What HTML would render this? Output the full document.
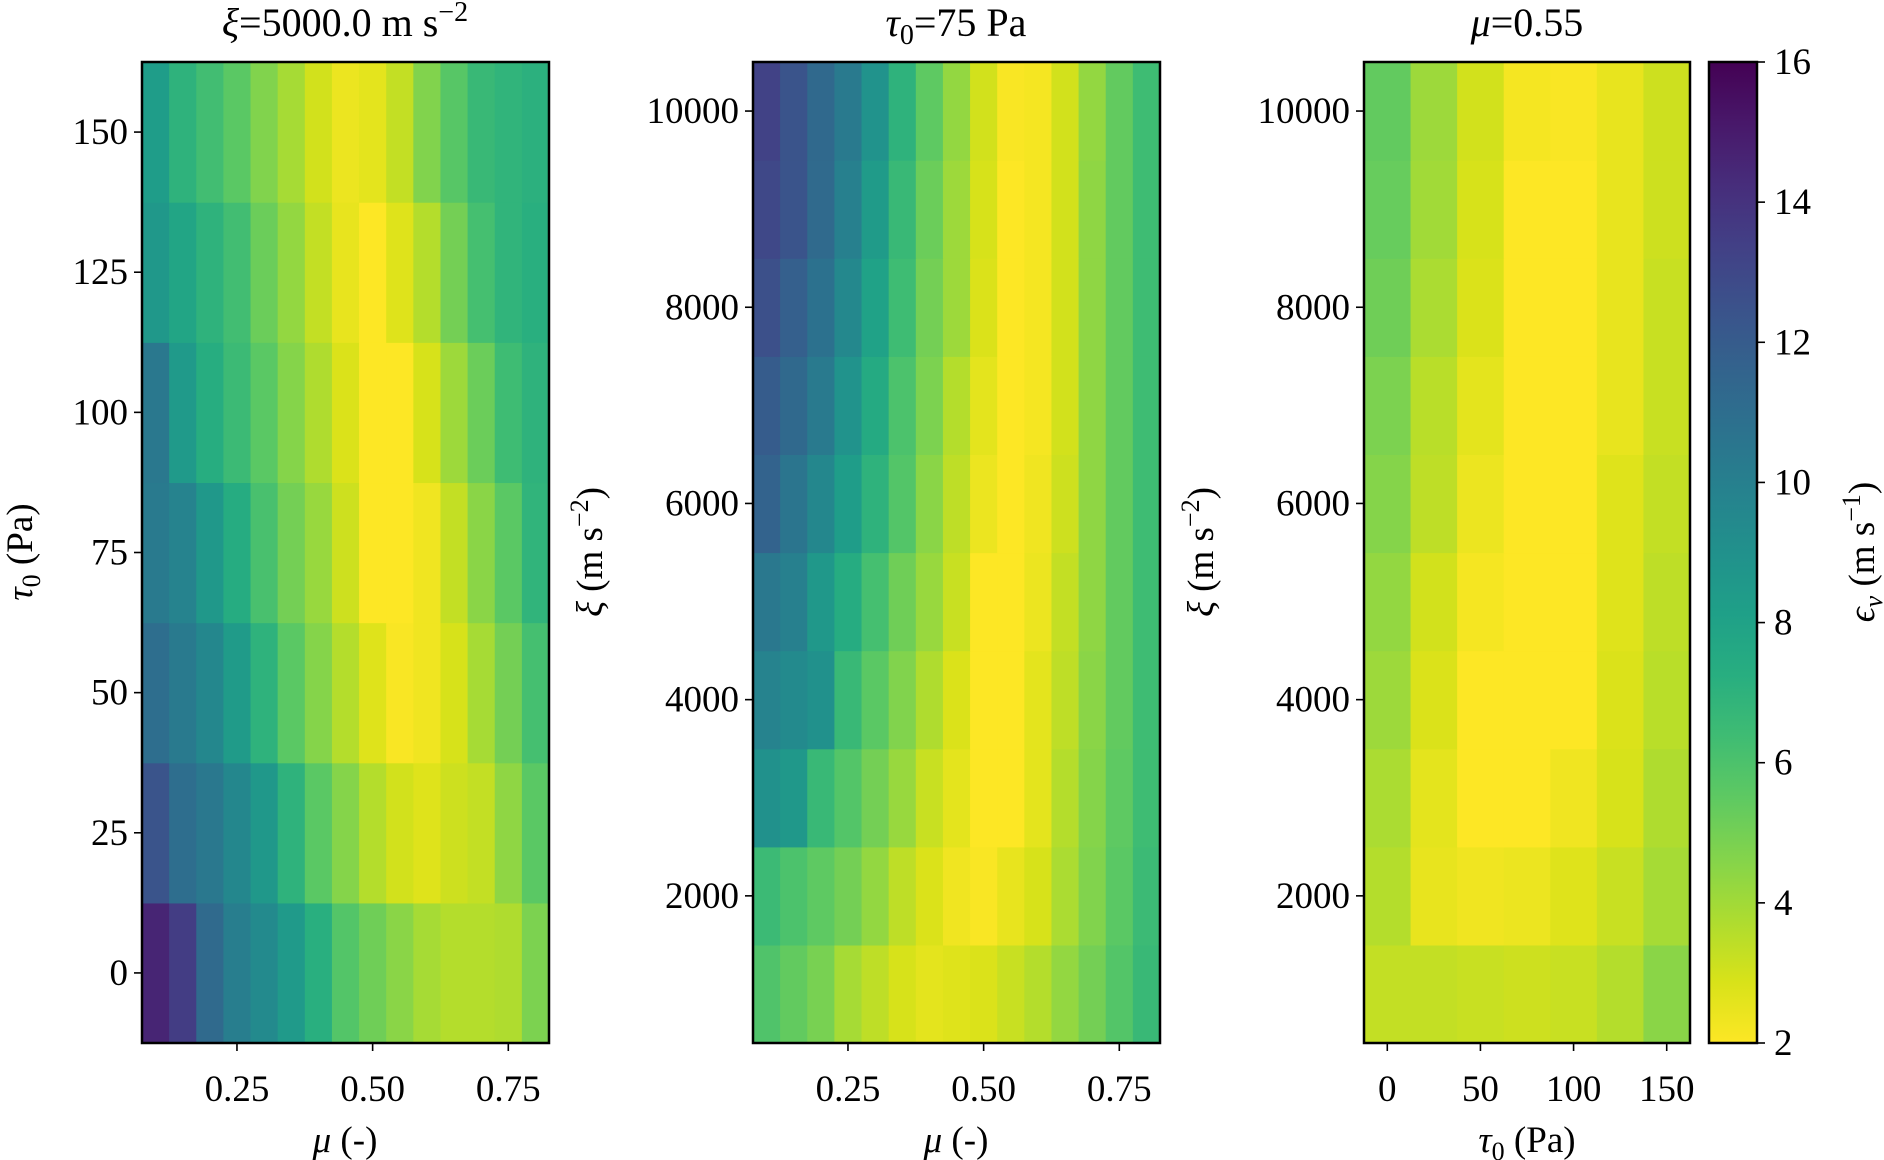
<!DOCTYPE html>
<html><head><meta charset="utf-8"><style>
html,body{margin:0;padding:0;background:#fff;}
svg{display:block;font-family:"Liberation Serif",serif;}
</style></head><body>
<svg id="fig" width="1884" height="1160" viewBox="0 0 1884 1160" xmlns="http://www.w3.org/2000/svg" style="position:absolute;left:0;top:0;">
<defs>
<linearGradient id="vgrad" x1="0" y1="1" x2="0" y2="0">
<stop offset="0" stop-color="#fde725"/><stop offset="0.0625" stop-color="#d8e219"/><stop offset="0.125" stop-color="#addc30"/><stop offset="0.1875" stop-color="#84d44b"/><stop offset="0.25" stop-color="#5ec962"/><stop offset="0.3125" stop-color="#3fbc73"/><stop offset="0.375" stop-color="#28ae80"/><stop offset="0.4375" stop-color="#1fa088"/><stop offset="0.5" stop-color="#21918c"/><stop offset="0.5625" stop-color="#26828e"/><stop offset="0.625" stop-color="#2c728e"/><stop offset="0.6875" stop-color="#33638d"/><stop offset="0.75" stop-color="#3b528b"/><stop offset="0.8125" stop-color="#424086"/><stop offset="0.875" stop-color="#472d7b"/><stop offset="0.9375" stop-color="#48186a"/><stop offset="1" stop-color="#440154"/>
</linearGradient>
</defs>
</svg>
<script>
// ---- data ----
const muCats = [0.1,0.15,0.2,0.25,0.3,0.35,0.4,0.45,0.5,0.55,0.6,0.65,0.7,0.75,0.8];
const tauCats = [0,25,50,75,100,125,150];
const xiCats = [1000,2000,3000,4000,5000,6000,7000,8000,9000,10000];
// panel 1: rows tau0 = 0..150 (bottom to top), cols mu
const p1Values = [
 [14.6,13.5,11.2,10.1,9.4,8.5,7.2,5.8,5.1,4.5,3.9,3.6,3.6,3.7,4.8],
 [12.4,11.0,10.4,9.6,8.6,7.0,5.6,4.6,3.6,3.0,2.7,3.1,3.3,4.4,5.6],
 [11.0,10.3,9.6,8.4,7.0,5.6,4.6,3.6,2.7,2.1,2.3,2.9,3.9,5.0,6.2],
 [10.3,9.8,8.6,7.4,6.1,5.0,4.2,3.1,2.0,2.0,2.3,3.3,4.5,5.6,6.9],
 [10.4,8.5,7.3,6.5,5.6,4.6,3.7,2.8,2.0,2.0,2.9,4.1,5.2,6.4,7.0],
 [8.6,7.8,7.0,6.3,5.2,4.3,3.3,2.5,2.0,2.7,3.6,5.0,6.2,6.9,7.2],
 [8.3,7.0,6.3,5.6,4.7,3.9,3.0,2.4,2.6,3.3,4.7,5.7,6.6,6.9,7.1]
];
// panel 2: rows xi = 1000..10000, cols mu
const p2Values = [
 [5.9,5.4,4.9,3.9,3.4,2.9,2.6,2.7,2.8,3.2,3.6,4.3,5.0,5.8,6.6],
 [6.5,6.0,5.5,5.0,4.3,3.4,2.8,2.3,2.1,2.5,2.9,3.8,4.7,5.6,6.5],
 [9.0,8.6,6.6,5.8,5.0,4.2,3.2,2.6,2.0,2.0,2.6,3.6,4.6,5.5,6.4],
 [9.8,9.4,9.0,6.6,5.6,4.7,3.7,2.8,2.0,2.0,2.6,3.4,4.5,5.4,6.4],
 [10.4,10.0,8.6,7.4,6.2,5.1,4.2,3.2,2.0,2.0,2.4,3.3,4.4,5.4,6.4],
 [11.6,10.6,9.6,8.3,7.0,5.8,4.5,3.4,2.4,2.0,2.3,3.1,4.4,5.4,6.4],
 [12.0,11.3,10.3,8.9,7.5,6.0,4.8,3.6,2.6,2.0,2.2,3.0,4.4,5.4,6.4],
 [12.6,11.8,10.8,9.5,8.0,6.4,5.0,4.1,2.8,2.0,2.2,3.0,4.4,5.4,6.4],
 [13.0,12.4,11.2,10.0,8.4,6.6,5.2,4.1,2.9,2.0,2.2,3.0,4.4,5.4,6.4],
 [13.3,12.4,11.3,10.3,8.9,7.0,5.5,4.3,3.0,2.1,2.2,3.0,4.3,5.4,6.4]
];
// panel 3: rows xi = 1000..10000, cols tau0
const p3Values = [
 [3.3,3.3,3.2,3.1,3.2,3.6,4.5],
 [3.6,2.5,2.3,2.4,2.7,3.2,3.9],
 [3.8,2.6,2.0,2.0,2.3,2.9,3.7],
 [4.1,2.8,2.0,2.0,2.0,2.8,3.5],
 [4.3,3.0,2.2,2.0,2.0,2.7,3.4],
 [4.6,3.4,2.4,2.0,2.0,2.7,3.3],
 [4.8,3.5,2.6,2.0,2.0,2.5,3.2],
 [5.1,3.8,2.8,2.0,2.0,2.5,3.2],
 [5.3,4.0,2.9,2.0,2.0,2.5,3.1],
 [5.4,4.1,3.0,2.2,2.1,2.5,3.1]
];
const muTicks = [0.25,0.5,0.75];
const muTickLabels = ["0.25","0.50","0.75"];
const tauTicks = [0,25,50,75,100,125,150];
const tauXTicks = [0,50,100,150];
const xiTicks = [2000,4000,6000,8000,10000];
const cbTicks = [2,4,6,8,10,12,14,16];

// ---- helpers ----
const NS="http://www.w3.org/2000/svg";
const svg=document.getElementById('fig');
const VIR=["#440154","#48186a","#472d7b","#424086","#3b528b","#33638d","#2c728e","#26828e","#21918c","#1fa088","#28ae80","#3fbc73","#5ec962","#84d44b","#addc30","#d8e219","#fde725"];
function hex(h){return [parseInt(h.substr(1,2),16),parseInt(h.substr(3,2),16),parseInt(h.substr(5,2),16)];}
function color(v){let t=(16-v)/14;t=Math.max(0,Math.min(1,t));const p=t*16;const i=Math.min(15,Math.floor(p));const f=p-i;const a=hex(VIR[i]),b=hex(VIR[i+1]);return 'rgb('+a.map((c,k)=>Math.round(c+(b[k]-c)*f)).join(',')+')';}
function mk(tag,attrs,parent){const e=document.createElementNS(NS,tag);for(const k in attrs)e.setAttribute(k,attrs[k]);(parent||svg).appendChild(e);return e;}
function lin(d0,d1,r0,r1){return v=>r0+(v-d0)/(d1-d0)*(r1-r0);}

const Y0=62,Y1=1043,FS=37;
function panel(name,x0,x1,xd,yd,xc,yc,vals,xticks,xlabels,yticks,ylabels){
  const g=mk('g',{});
  
  
  const sx=lin(xd[0],xd[1],x0,x1), sy=lin(yd[0],yd[1],Y1,Y0);
  const dx=(xc[1]-xc[0])/2, dy=(yc[1]-yc[0])/2;
  for(let r=0;r<yc.length;r++)for(let c=0;c<xc.length;c++){
    const xa=sx(xc[c]-dx), xb=sx(xc[c]+dx), ya=sy(yc[r]+dy), yb=sy(yc[r]-dy);
    const rc=mk('rect',{x:xa,y:ya,width:xb-xa+0.6,height:yb-ya+0.6,fill:color(vals[r][c])},g);
    
    
  }
  mk('rect',{x:x0,y:Y0,width:x1-x0,height:Y1-Y0,fill:'none',stroke:'#000','stroke-width':2.5},g);
  xticks.forEach((t,i)=>{const x=sx(t);mk('line',{x1:x,x2:x,y1:Y1,y2:Y1+8,stroke:'#000','stroke-width':1.6},g);
    const tx=mk('text',{x:x,y:1101,'text-anchor':'middle','font-size':FS},g);tx.textContent=xlabels[i];
    
    });
  yticks.forEach((t,i)=>{const y=sy(t);mk('line',{x1:x0-8,x2:x0,y1:y,y2:y,stroke:'#000','stroke-width':1.6},g);
    const tx=mk('text',{x:x0-14,y:y+12,'text-anchor':'end','font-size':FS},g);tx.textContent=ylabels[i];
    
    });
}
panel('panel-xi-5000',142,549,[0.075,0.825],[-12.5,162.5],muCats,tauCats,p1Values,muTicks,muTickLabels,tauTicks,tauTicks.map(String));
panel('panel-tau-75',753,1160,[0.075,0.825],[500,10500],muCats,xiCats,p2Values,muTicks,muTickLabels,xiTicks,xiTicks.map(String));
panel('panel-mu-055',1364,1690,[-12.5,162.5],[500,10500],tauCats,xiCats,p3Values,tauXTicks,tauXTicks.map(String),xiTicks,xiTicks.map(String));

// colorbar
const cb=mk('g',{});


mk('rect',{x:1709,y:Y0,width:48,height:Y1-Y0,fill:'url(#vgrad)',stroke:'#000','stroke-width':2.5},cb);
const cy=lin(2,16,Y1,Y0);
cbTicks.forEach(t=>{const y=cy(t);mk('line',{x1:1757,x2:1765,y1:y,y2:y,stroke:'#000','stroke-width':1.6},cb);
  const tx=mk('text',{x:1774,y:y+12,'font-size':FS},cb);tx.textContent=String(t);
  
  });
</script>
<div style="position:absolute;left:0;top:0;width:1884px;height:1160px;pointer-events:none;">
<svg width="1884" height="1160" style="position:absolute;left:0;top:0;font-family:'Liberation Serif',serif;">
<text x="345" y="36" text-anchor="middle" font-size="40"><tspan font-style="italic">ξ</tspan>=5000.0 m s<tspan dy="-15" font-size="28">−2</tspan></text>
<text x="956" y="36" text-anchor="middle" font-size="40"><tspan font-style="italic">τ</tspan><tspan dy="8" font-size="28">0</tspan><tspan dy="-8">=75 Pa</tspan></text>
<text x="1527" y="36" text-anchor="middle" font-size="40"><tspan font-style="italic">μ</tspan>=0.55</text>
<text x="345" y="1152" text-anchor="middle" font-size="37"><tspan font-style="italic">μ</tspan> (-)</text>
<text x="956" y="1152" text-anchor="middle" font-size="37"><tspan font-style="italic">μ</tspan> (-)</text>
<text x="1527" y="1152" text-anchor="middle" font-size="37"><tspan font-style="italic">τ</tspan><tspan dy="8" font-size="26">0</tspan><tspan dy="-8"> (Pa)</tspan></text>
<text transform="translate(32,552) rotate(-90)" text-anchor="middle" font-size="37"><tspan font-style="italic">τ</tspan><tspan dy="8" font-size="26">0</tspan><tspan dy="-8"> (Pa)</tspan></text>
<text transform="translate(602,552) rotate(-90)" text-anchor="middle" font-size="37"><tspan font-style="italic">ξ</tspan> (m s<tspan dy="-14" font-size="26">−2</tspan><tspan dy="14">)</tspan></text>
<text transform="translate(1213,552) rotate(-90)" text-anchor="middle" font-size="37"><tspan font-style="italic">ξ</tspan> (m s<tspan dy="-14" font-size="26">−2</tspan><tspan dy="14">)</tspan></text>
<text transform="translate(1874,552) rotate(-90)" text-anchor="middle" font-size="37"><tspan font-style="italic">ϵ</tspan><tspan dy="8" font-size="26" font-style="italic">v</tspan><tspan dy="-8"> (m s</tspan><tspan dy="-14" font-size="26">−1</tspan><tspan dy="14">)</tspan></text>
</svg>
</div>
</body></html>
